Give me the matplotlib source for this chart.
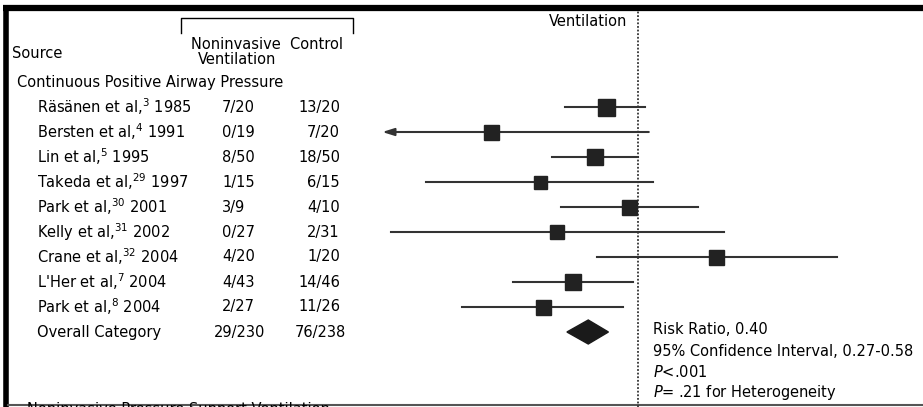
import numpy as np
import matplotlib.pyplot as plt
from matplotlib.patches import Polygon

# Datos
estudios = ["Räsänen et al,$^{3}$ 1985", "Bersten et al,$^{4}$ 1991", "Lin et al,$^{5}$ 1995",
            "Takeda et al,$^{29}$ 1997", "Park et al,$^{30}$ 2001", "Kelly et al,$^{31}$ 2002",
            "Crane et al,$^{32}$ 2004", "L'Her et al,$^{7}$ 2004", "Park et al,$^{8}$ 2004"]
niv = ["7/20", "0/19", "8/50", "1/15", "3/9", "0/27", "4/20", "4/43", "2/27"]
control = ["13/20", "7/20", "18/50", "6/15", "4/10", "2/31", "1/20", "14/46", "11/26"]
rr = [0.55, 0.067, 0.45, 0.165, 0.84, 0.225, 4.2, 0.30, 0.175]
ci_lo = [0.26, 0.004, 0.205, 0.02, 0.24, 0.0105, 0.47, 0.10, 0.039]
ci_hi = [1.14, 1.22, 1.0, 1.31, 3.0, 4.9, 39.0, 0.91, 0.76]
total_niv = "29/230"
total_control = "76/238"
rr_total, lo_total, hi_total = 0.40, 0.27, 0.58

# Tamano de cuadros (px), refleja el peso
caja_px = [17, 15, 16, 13, 15, 14, 15, 16, 15]

W, H = 923, 407
x_uno = 638        # pixel donde RR = 1
px_decada = 125.0
fila0, paso = 107, 25.0
limite_izq = 0.009  # minimo mostrado (flecha)

fig = plt.figure(figsize=(W / 100, H / 100), dpi=100)
plt.rcParams['font.family'] = ['DejaVu Sans']
fs = 10.5

def fila(py):
    return (py - fila0) / paso

ylim = (fila(H), fila(0))

# ejes para texto (x en pixeles)
ax_t = fig.add_axes([0, 0, 1, 1])
ax_t.set_xlim(0, W)
ax_t.set_ylim(*ylim)
ax_t.axis('off')

# ejes del forest plot (escala log)
ax = fig.add_axes([0, 0, 1, 1], facecolor='none')
ax.set_xscale('log')
ax.set_xlim(10 ** ((0 - x_uno) / px_decada), 10 ** ((W - x_uno) / px_decada))
ax.set_ylim(*ylim)
ax.axis('off')

# bordes
ax_t.plot([3, W], [fila(8), fila(8)], color='black', lw=4.5, solid_capstyle='butt')
ax_t.plot([5.5, 5.5], [fila(5), fila(H)], color='black', lw=4, solid_capstyle='butt')
ax_t.plot([8, W], [fila(405), fila(405)], color='#555555', lw=1.5)

# encabezados
ax_t.text(12, fila(53), "Source", fontsize=fs, va='center')
ax_t.text(191, fila(44), "Noninvasive  Control", fontsize=fs, va='center')
ax_t.text(237, fila(59), "Ventilation", fontsize=fs, va='center', ha='center')
ax_t.plot([181, 181, 353, 353], [fila(33), fila(18), fila(18), fila(33)], color='black', lw=1)
ax_t.text(17, fila(82), "Continuous Positive Airway Pressure", fontsize=fs, va='center')
ax_t.text(627, fila(21), "Ventilation", fontsize=fs, va='center', ha='right')

filas = np.arange(len(estudios))
for i, nombre in enumerate(estudios):
    ax_t.text(37, i, nombre, fontsize=fs, va='center')
    ax_t.text(222, i, niv[i], fontsize=fs, va='center')
    ax_t.text(340, i, control[i], fontsize=fs, va='center', ha='right')

i_total = len(estudios)
ax_t.text(37, i_total, "Overall Category", fontsize=fs, va='center')
ax_t.text(240, i_total, total_niv, fontsize=fs, va='center', ha='center')
ax_t.text(295, i_total, total_control, fontsize=fs, va='center')

# linea de no efecto
ax.axvline(1, ymin=0, ymax=(H - 11) / H, color='#333333', lw=1.3, ls=(0, (1, 1)))

# intervalos y cuadros
for i in range(len(estudios)):
    if ci_lo[i] < limite_izq:
        ax.annotate('', xy=(limite_izq, i), xytext=(ci_hi[i], i),
                    arrowprops=dict(arrowstyle='-|>,head_length=0.7,head_width=0.22',
                                    color='#333333', lw=1.5, shrinkA=0, shrinkB=0))
    else:
        ax.plot([ci_lo[i], ci_hi[i]], [i, i], color='#333333', lw=1.5)
    ax.plot(rr[i], i, marker='s', color='#222222', markersize=caja_px[i] * 0.72, zorder=3)

# diamante total
dy = 12 / paso
diamante = Polygon([(lo_total, i_total), (rr_total, i_total - dy),
                    (hi_total, i_total), (rr_total, i_total + dy)],
                   closed=True, color='#1a1a1a')
ax.add_patch(diamante)

# texto del resultado global
ax_t.text(653, fila(330), "Risk Ratio, 0.40", fontsize=fs, va='center')
ax_t.text(653, fila(351), "95% Confidence Interval, 0.27-0.58", fontsize=fs, va='center')
ax_t.text(653, fila(372), r"$P$<.001", fontsize=fs, va='center')
ax_t.text(653, fila(392), r"$P$= .21 for Heterogeneity", fontsize=fs, va='center')

# texto cortado en la parte inferior (como en la figura original)
ax_t.text(27, fila(402), "Noninvasive Pressure Support Ventilation", fontsize=fs, va='top')

fig.savefig('out.png', dpi=100)
